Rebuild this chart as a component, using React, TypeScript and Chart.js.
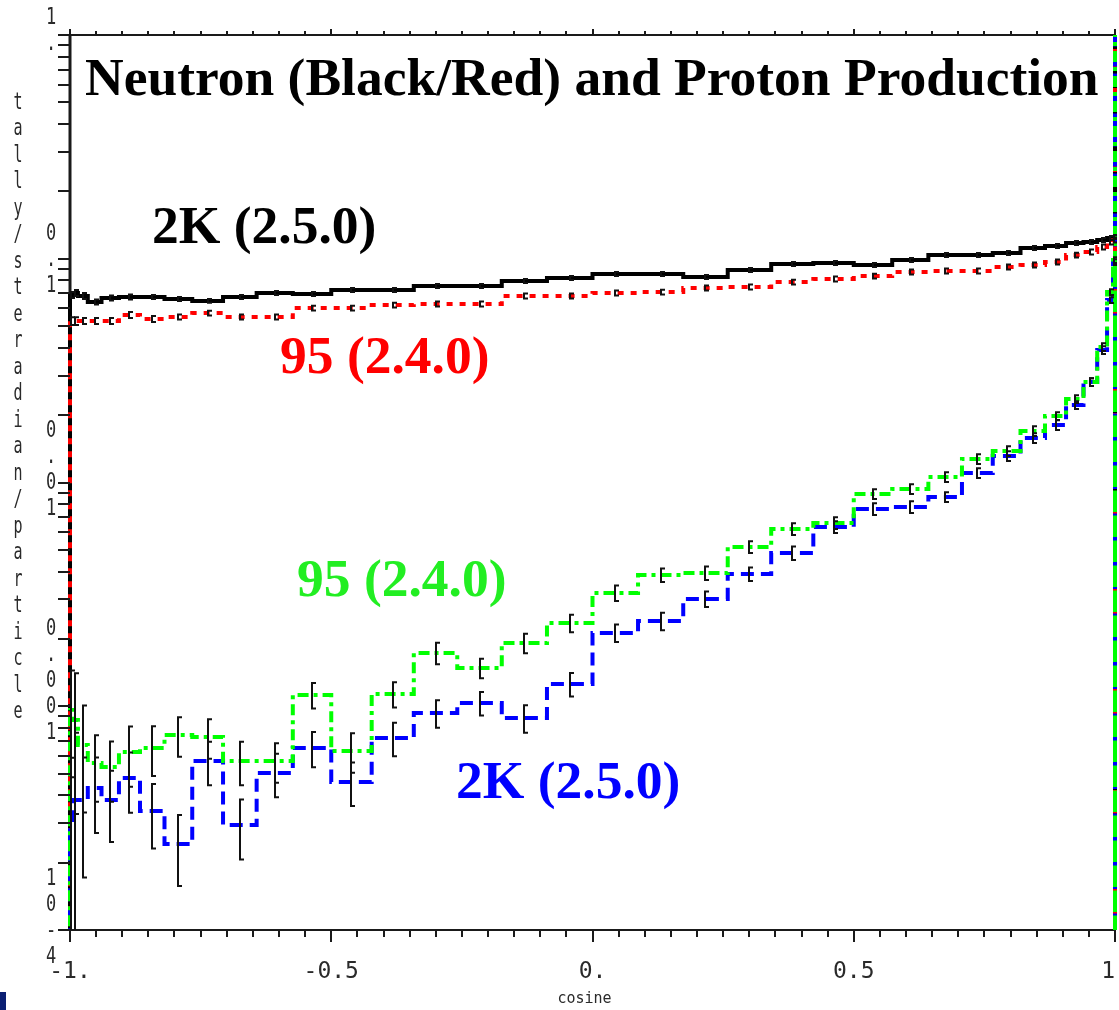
import React, { useEffect, useRef } from "react";
import { Chart, registerables } from "chart.js";

Chart.register(...registerables);

// Bin edges in scattering angle (degrees), 5-degree bins, ordered from cosine -1 to 1
const binEdgeAnglesDeg = [
  180, 175, 170, 165, 160, 155, 150, 145, 140, 135, 130, 125, 120, 115, 110, 105, 100, 95, 90,
  85, 80, 75, 70, 65, 60, 55, 50, 45, 40, 35, 30, 25, 20, 15, 10, 5, 0,
];

// Neutron production, 2K (2.5.0) - black
const neutron25 = [
  0.0689, 0.0703, 0.0682, 0.0641, 0.0668, 0.0675, 0.0675, 0.0661, 0.0648, 0.0675, 0.0703, 0.0696,
  0.0725, 0.0725, 0.0756, 0.0756, 0.0796, 0.082, 0.0855, 0.0855, 0.0829, 0.0891, 0.0947, 0.0957,
  0.0938, 0.0987, 0.1039, 0.1039, 0.1061, 0.1117, 0.114, 0.1176, 0.1188, 0.1213, 0.1238, 0.1251,
];
const neutron25Err = [
  0.03, 0.03, 0.03, 0.025, 0.025, 0.025, 0.02, 0.02, 0.02, 0.02, 0.02, 0.02, 0.02, 0.02, 0.02, 0.02,
  0.02, 0.02, 0.02, 0.02, 0.02, 0.02, 0.02, 0.02, 0.02, 0.02, 0.02, 0.02, 0.02, 0.02, 0.02, 0.02,
  0.02, 0.02, 0.02, 0.02,
];

// Neutron production, 95 (2.4.0) - red
const neutron24 = [
  0.0527, 0.0527, 0.0527, 0.0527, 0.0527, 0.0561, 0.0538, 0.0549, 0.0572, 0.0549, 0.0549, 0.0602,
  0.0602, 0.0621, 0.0628, 0.0628, 0.0682, 0.0682, 0.0703, 0.071, 0.074, 0.0748, 0.0787, 0.0812,
  0.0837, 0.0873, 0.0882, 0.0882, 0.0919, 0.0938, 0.0967, 0.1039, 0.1072, 0.1129, 0.1188, 0.1213,
];
const neutron24Err = [
  0.04, 0.04, 0.03, 0.03, 0.03, 0.03, 0.03, 0.025, 0.025, 0.025, 0.025, 0.025, 0.025, 0.025, 0.025,
  0.025, 0.025, 0.025, 0.025, 0.025, 0.025, 0.025, 0.025, 0.025, 0.025, 0.025, 0.025, 0.025, 0.025,
  0.025, 0.025, 0.025, 0.025, 0.025, 0.025, 0.025,
];

// Proton production, 95 (2.4.0) - green
const proton24 = [
  0.000962, 0.000868, 0.000671, 0.000558, 0.000535, 0.000624, 0.000651, 0.000744, 0.000729,
  0.000569, 0.000569, 0.001123, 0.000631, 0.001134, 0.00173, 0.001482, 0.001917, 0.002355,
  0.003208, 0.00386, 0.00394, 0.005148, 0.006196, 0.006592, 0.008884, 0.009353, 0.01058, 0.01274,
  0.01383, 0.01699, 0.01983, 0.02361, 0.02812, 0.04032, 0.071, 0.0987,
];
const proton24Err = [
  0.5, 0.62, 0.5, 0.33, 0.3, 0.3, 0.25, 0.2, 0.2, 0.22, 0.2, 0.13, 0.2, 0.13, 0.11, 0.1, 0.1, 0.09,
  0.08, 0.07, 0.07, 0.06, 0.06, 0.06, 0.05, 0.05, 0.05, 0.05, 0.05, 0.05, 0.04, 0.04, 0.04, 0.04,
  0.03, 0.03,
];

// Proton production, 2K (2.5.0) - blue
const proton25 = [
  0.00031, 0.000381, 0.000381, 0.000431, 0.000381, 0.000478, 0.00034, 0.000242, 0.000569, 0.000295,
  0.000503, 0.000651, 0.000459, 0.000721, 0.000933, 0.001034, 0.000886, 0.001257, 0.002126,
  0.002404, 0.003015, 0.0039, 0.00484, 0.006324, 0.007612, 0.00777, 0.008612, 0.01103, 0.01313,
  0.01581, 0.01807, 0.02221, 0.02812, 0.03911, 0.0654, 0.0967,
];
const proton25Err = [
  0.9, 1.0, 0.55, 0.37, 0.35, 0.3, 0.32, 0.35, 0.22, 0.3, 0.22, 0.18, 0.22, 0.17, 0.14, 0.12, 0.14,
  0.12, 0.09, 0.09, 0.08, 0.07, 0.07, 0.06, 0.06, 0.06, 0.05, 0.05, 0.05, 0.05, 0.05, 0.04, 0.04,
  0.04, 0.03, 0.03,
];

const xTickValues = [-1, -0.5, 0, 0.5, 1];
const xTickLabels = ["-1.", "-0.5", "0.", "0.5", "1."];
const yDecadeValues = [1, 0.1, 0.01, 0.001, 0.0001];
const yDecadeLabels = ["1.", "0.1", "0.01", "0.001", "10-4"];
const yTitle = "tally/steradian/particle";
const xTitle = "cosine";
const chartTitle = "Neutron (Black/Red) and Proton Production";
const seriesLabels = ["2K (2.5.0)", "95 (2.4.0)", "95 (2.4.0)", "2K (2.5.0)"];

const W = 1119;
const H = 1010;

const binEdges = binEdgeAnglesDeg.map((a) => Math.cos((a * Math.PI) / 180));

function histPoints(vals: number[]) {
  const n = vals.length;
  const pts: { x: number; y: number }[] = [{ x: binEdges[0], y: 1e-7 }];
  vals.forEach((v, i) => pts.push({ x: binEdges[i], y: v }));
  pts.push({ x: binEdges[n], y: vals[n - 1] });
  pts.push({ x: binEdges[n], y: 1e-7 });
  pts.push({ x: binEdges[n], y: 10 });
  return pts;
}

const MONO = "'DejaVu Sans Mono', 'Liberation Mono', monospace";
const SERIF = "'Liberation Serif', 'DejaVu Serif', serif";

const mcnpPlugin = {
  id: "mcnpDecor",
  beforeDatasetsDraw(chart: any) {
    const { ctx, chartArea } = chart;
    const { left, right, top, bottom } = chartArea;
    ctx.save();
    ctx.strokeStyle = "#1a1a1a";
    ctx.lineCap = "butt";
    ctx.lineWidth = 3;
    ctx.beginPath();
    ctx.moveTo(left, top);
    ctx.lineTo(left, bottom);
    ctx.stroke();
    ctx.lineWidth = 2;
    ctx.beginPath();
    ctx.moveTo(left, top);
    ctx.lineTo(right, top);
    ctx.moveTo(left, bottom);
    ctx.lineTo(right, bottom);
    ctx.moveTo(right, top);
    ctx.lineTo(right, bottom);
    ctx.stroke();
    ctx.restore();
  },
  afterDatasetsDraw(chart: any) {
    const { ctx, chartArea } = chart;
    const xs = chart.scales.x;
    const ys = chart.scales.y;
    const sets = [
      { vals: neutron25, err: neutron25Err },
      { vals: neutron24, err: neutron24Err },
      { vals: proton25, err: proton25Err },
      { vals: proton24, err: proton24Err },
    ];
    ctx.save();
    ctx.beginPath();
    ctx.rect(chartArea.left - 2, chartArea.top, chartArea.right - chartArea.left + 4, chartArea.bottom - chartArea.top);
    ctx.clip();
    ctx.strokeStyle = "#111";
    ctx.lineWidth = 2;
    sets.forEach(({ vals, err }) => {
      vals.forEach((v, i) => {
        const xc = Math.round(xs.getPixelForValue((binEdges[i] + binEdges[i + 1]) / 2));
        const hi = v * (1 + err[i]);
        const lo = v * (1 - err[i]);
        const yHi = ys.getPixelForValue(hi);
        const yLo = lo > 0 ? Math.min(ys.getPixelForValue(lo), chartArea.bottom + 5) : chartArea.bottom + 5;
        ctx.beginPath();
        ctx.moveTo(xc, yHi);
        ctx.lineTo(xc, yLo);
        ctx.moveTo(xc - 1, yHi);
        ctx.lineTo(xc + 4, yHi);
        if (yLo < chartArea.bottom) {
          ctx.moveTo(xc - 1, yLo);
          ctx.lineTo(xc + 4, yLo);
        }
        ctx.stroke();
      });
    });
    ctx.restore();
  },
  afterDraw(chart: any) {
    const { ctx, chartArea } = chart;
    const { left, right, top, bottom } = chartArea;
    const xs = chart.scales.x;
    const ys = chart.scales.y;
    ctx.save();
    ctx.strokeStyle = "#1a1a1a";
    ctx.lineWidth = 2;
    for (let k = -20; k <= 20; k++) {
      const v = k * 0.05;
      const px = Math.round(xs.getPixelForValue(v));
      const major = k % 10 === 0;
      ctx.beginPath();
      ctx.moveTo(px, bottom);
      ctx.lineTo(px, bottom + (major ? 12 : 7));
      ctx.moveTo(px, top);
      ctx.lineTo(px, top - (major ? 6 : 4));
      ctx.stroke();
    }
    for (let d = -4; d <= 0; d++) {
      for (let m = 1; m <= 9; m++) {
        const v = m * Math.pow(10, d);
        if (v > 1.0001) break;
        const py = Math.round(ys.getPixelForValue(v));
        ctx.beginPath();
        ctx.moveTo(left, py);
        ctx.lineTo(left - 12, py);
        ctx.stroke();
      }
    }

    ctx.fillStyle = "#2a2a2a";
    ctx.textAlign = "center";
    ctx.textBaseline = "middle";
    const drawChar = (ch: string, cx: number, cy: number, sy: number) => {
      ctx.save();
      ctx.translate(cx, cy);
      ctx.scale(1, sy);
      ctx.fillText(ch, 0, 0);
      ctx.restore();
    };
    ctx.font = `17px ${MONO}`;
    yDecadeValues.forEach((val, i) => {
      const py = ys.getPixelForValue(val);
      const chars = yDecadeLabels[i].split("");
      const n = chars.length;
      const first = i === 0 ? py - 17 : py + 27 - 26 * (n - 1);
      chars.forEach((ch, j) => drawChar(ch, 51, first + 26 * j, 1.35));
    });
    ctx.font = `15px ${MONO}`;
    yTitle.split("").forEach((ch, j) => drawChar(ch, 18, 103 + 26.5 * j, 1.5));

    ctx.textBaseline = "alphabetic";
    ctx.font = `23px ${MONO}`;
    xTickValues.forEach((v, i) => {
      ctx.fillText(xTickLabels[i], xs.getPixelForValue(v), 978);
    });
    ctx.font = `15px ${MONO}`;
    ctx.fillText(xTitle, (left + right) / 2 - 8, 1003);

    ctx.textAlign = "left";
    ctx.font = `bold 53.5px ${SERIF}`;
    ctx.fillStyle = "#000";
    ctx.fillText(chartTitle, 85, 95);
    const annot = [
      { text: seriesLabels[0], color: "#000000", x: 152, y: 243 },
      { text: seriesLabels[1], color: "#ff0000", x: 280, y: 373 },
      { text: seriesLabels[2], color: "#22ee22", x: 297, y: 596 },
      { text: seriesLabels[3], color: "#0000ff", x: 456, y: 798 },
    ];
    annot.forEach((a) => {
      ctx.fillStyle = a.color;
      ctx.fillText(a.text, a.x, a.y);
    });

    ctx.fillStyle = "#0b1f73";
    ctx.fillRect(0, 992, 6, 18);
    ctx.restore();
  },
};

export default function App() {
  const canvasRef = useRef<HTMLCanvasElement | null>(null);

  useEffect(() => {
    if (!canvasRef.current) return;
    const clip = { left: 4, right: 6, top: 0, bottom: 0 };
    const chart = new Chart(canvasRef.current, {
      type: "line",
      data: {
        datasets: [
          {
            label: "Proton 95 (2.4.0)",
            data: histPoints(proton24),
            borderColor: "#00ff00",
            borderWidth: 4,
            borderDash: [11, 5, 4, 5],
            stepped: "before",
            pointRadius: 0,
            fill: false,
            clip,
          },
          {
            label: "Proton 2K (2.5.0)",
            data: histPoints(proton25),
            borderColor: "#0000ff",
            borderWidth: 4,
            borderDash: [13, 7],
            stepped: "before",
            pointRadius: 0,
            fill: false,
            clip,
          },
          {
            label: "Neutron 95 (2.4.0)",
            data: histPoints(neutron24),
            borderColor: "#ff0000",
            borderWidth: 4,
            borderDash: [6, 7],
            stepped: "before",
            pointRadius: 0,
            fill: false,
            clip,
          },
          {
            label: "Neutron 2K (2.5.0)",
            data: histPoints(neutron25),
            borderColor: "#000000",
            borderWidth: 4,
            stepped: "before",
            pointRadius: 0,
            fill: false,
            clip,
          },
        ],
      } as any,
      options: {
        animation: false,
        responsive: false,
        events: [],
        layout: { padding: { left: 70, right: W - 1115, top: 35, bottom: H - 930 } },
        plugins: { legend: { display: false }, tooltip: { enabled: false }, title: { display: false } },
        scales: {
          x: { type: "linear", min: -1, max: 1, display: false },
          y: { type: "logarithmic", min: 1e-4, max: 1, display: false },
        },
      } as any,
      plugins: [mcnpPlugin],
    });
    return () => chart.destroy();
  }, []);

  return (
    <div style={{ position: "fixed", left: 0, top: 0, width: W, height: H, background: "#fff" }}>
      <canvas ref={canvasRef} width={W} height={H} style={{ width: W, height: H, display: "block" }} />
    </div>
  );
}
